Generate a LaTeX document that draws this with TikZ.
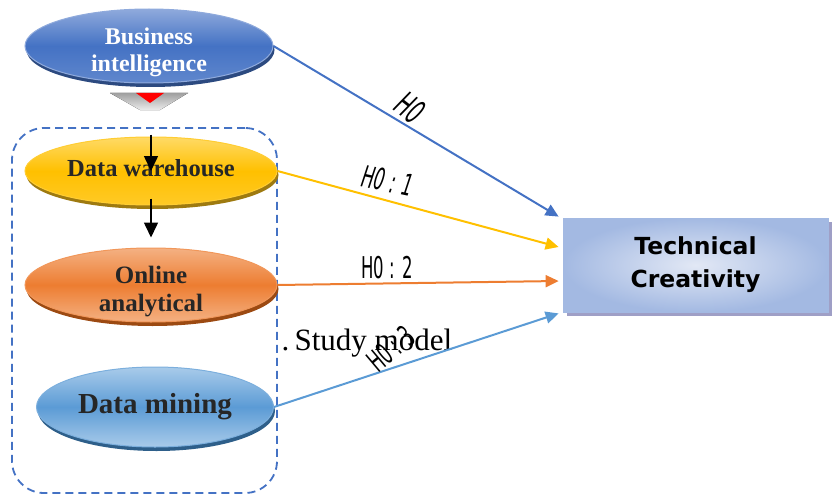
\documentclass[tikz,border=0pt]{standalone}
\usepackage{fontspec}
\setmainfont{Liberation Serif}
\newfontfamily\boxfont{DejaVu Sans}
\newfontfamily\hypfont{DejaVu Sans}
\usetikzlibrary{shapes.geometric,shadows,arrows.meta,positioning}
\definecolor{biblue}{HTML}{4472C4}
\definecolor{bilight}{HTML}{8FAADC}
\definecolor{bishd}{HTML}{2C4A80}
\definecolor{dwgold}{HTML}{FFC000}
\definecolor{dwlight}{HTML}{FFDA66}
\definecolor{dwshd}{HTML}{9E7A10}
\definecolor{oaorange}{HTML}{ED7D31}
\definecolor{oalight}{HTML}{F4B183}
\definecolor{oashd}{HTML}{9C4A12}
\definecolor{dmblue}{HTML}{5B9BD5}
\definecolor{dmlight}{HTML}{A9CBEA}
\definecolor{dmshd}{HTML}{2E5F8A}
\definecolor{tcpale}{HTML}{E2E8F5}
\definecolor{tcdark}{HTML}{A3B9E2}
\newcommand{\hyp}[1]{\scalebox{0.55}[1]{\hypfont\fontsize{30}{30}\selectfont #1}}

\begin{document}
\begin{tikzpicture}[x=1pt,y=-1pt]
\useasboundingbox (0,0) rectangle (833,495);
%%%%%%%%%%%%%%%%%%%%%%%%%%%%%%%%%%%%%%%%%%%%%%%%%%%%%%%%%%%%%%%%%%%%%%%%
%styles
\tikzstyle{oval}=[ellipse,inner sep=0pt,align=center,line width=1pt]
\tikzstyle{hline}=[line width=2pt,-{Triangle[length=13pt,width=12pt]}]
\tikzstyle{blk}=[line width=1.6pt,-{Triangle[length=15pt,width=14pt]}]

%group
\node[draw=biblue,dashed,dash pattern=on 8pt off 5pt,line width=1.8pt,rounded corners=32pt,
      minimum width=265,minimum height=365] (grp) at (144.5,310.5) {};

%wedge under BI
\fill[top color=gray!75,bottom color=gray!15] (110,93) -- (188,93) -- (160,110) -- (140,110) -- cycle;
\fill[red] (136,93) -- (164,93) -- (150,103) -- cycle;

%ovals
\node[oval,draw=bilight,top color=bilight,bottom color=biblue!85!white,middle color=biblue,
      general shadow={shadow xshift=1.5pt,shadow yshift=-4pt,fill=bishd},
      minimum width=248,minimum height=74,text=white,text height=52pt,text depth=0pt,
      font=\bfseries\fontsize{24}{28}\selectfont] (bi) at (149,46) {Business\\intelligence};
\node[oval,draw=dwgold!80!white,top color=dwlight,bottom color=dwgold!85!white,middle color=dwgold,
      general shadow={shadow xshift=1.5pt,shadow yshift=-4pt,fill=dwshd},
      minimum width=252,minimum height=68,text=black!85,text depth=7pt,
      font=\bfseries\fontsize{24.5}{28}\selectfont] (dw) at (151,171) {Data warehouse};
\node[oval,draw=oaorange!80!white,top color=oalight,bottom color=oalight,middle color=oaorange,
      general shadow={shadow xshift=1.5pt,shadow yshift=-4pt,fill=oashd},
      minimum width=252,minimum height=74,text=black!85,text height=52pt,text depth=0pt,
      font=\bfseries\fontsize{25}{28}\selectfont] (oa) at (151,285) {Online\\analytical};
\node[oval,draw=dmblue!80!white,top color=dmlight,bottom color=dmlight,middle color=dmblue,
      general shadow={shadow xshift=1.5pt,shadow yshift=-4pt,fill=dmshd},
      minimum width=237,minimum height=80,text=black!85,
      font=\bfseries\fontsize{29}{30}\selectfont] (dm) at (155,407) {Data mining};

%outcome
\node[draw=tcdark,line width=0.8pt,shading=radial,inner color=tcpale,outer color=tcdark,
      general shadow={shadow xshift=4pt,shadow yshift=-4pt,fill=gray!75!blue!60!white},
      minimum width=265,minimum height=94,align=center,
      font=\boxfont\bfseries\fontsize{23.5}{33}\selectfont] (tc) at (695.5,265) {Technical\\Creativity};

%caption
\node[anchor=base,font=\fontsize{31}{31}\selectfont] (cap) at (367,350) {.\,Study model};

%black arrows
\draw[blk] ([yshift=2pt]dw.north) -- (dw.center);
\draw[blk] ([yshift=7pt]dw.south) -- ([yshift=10pt]oa.north);

%hypotheses
\draw[hline,biblue] (bi.east) -- ([xshift=-4pt,yshift=1pt]tc.north west);
\draw[hline,dwgold] (dw.east) -- ([xshift=-4pt,yshift=18pt]tc.west);
\draw[hline,oaorange] (oa.east) -- ([xshift=-4pt,yshift=-16pt]tc.west);
\draw[hline,dmblue] (dm.east) -- ([xshift=-4pt,yshift=-1pt]tc.south west);

\node[rotate=-38] (h0) at (410,108) {\hyp{\itshape\fontsize{34}{34}\selectfont H0}};
\node[rotate=-12] (h01) at (388,181) {\hyp{\itshape H0 : 1}};
\node (h02) at (387,268) {\hyp{H0 : 2}};
\node[rotate=40] (h03) at (391,349) {\hyp{H0 : 3}};

\end{tikzpicture}
\end{document}
